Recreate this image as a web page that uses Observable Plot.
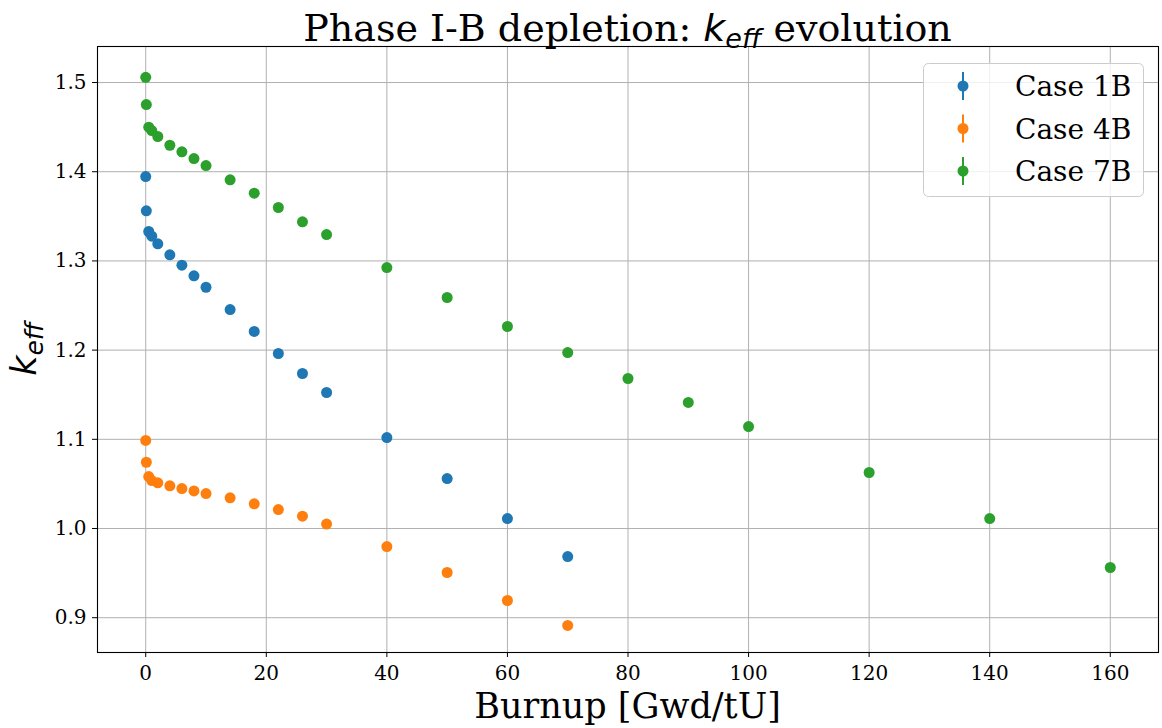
<!DOCTYPE html>
<html><head><meta charset="utf-8">
<script src="https://cdn.jsdelivr.net/npm/d3@7"></script>
<script src="https://cdn.jsdelivr.net/npm/@observablehq/plot@0.6"></script>
<style>body{margin:0;background:#fff;} #chart svg{display:block;}</style>
</head><body><div id="chart"></div>
<script>
const burnupShort = [0, 0.1, 0.5, 1, 2, 4, 6, 8, 10, 14, 18, 22, 26, 30, 40, 50, 60, 70];
const burnupLong = [0, 0.1, 0.5, 1, 2, 4, 6, 8, 10, 14, 18, 22, 26, 30, 40, 50, 60, 70, 80, 90, 100, 120, 140, 160];
const case1B = [1.3946, 1.3562, 1.3330, 1.3277, 1.3192, 1.3068, 1.2952, 1.2833, 1.2705, 1.2455, 1.2209, 1.1962, 1.1738, 1.1525, 1.1020, 1.0560, 1.0112, 0.9686];
const case4B = [1.0987, 1.0743, 1.0583, 1.0538, 1.0512, 1.0479, 1.0448, 1.0422, 1.0392, 1.0344, 1.0277, 1.0213, 1.0138, 1.0050, 0.9798, 0.9507, 0.9193, 0.8913];
const case7B = [1.5059, 1.4753, 1.4499, 1.4462, 1.4395, 1.4297, 1.4223, 1.4148, 1.4069, 1.3909, 1.3759, 1.3599, 1.3438, 1.3296, 1.2926, 1.2590, 1.2265, 1.1973, 1.1682, 1.1413, 1.1143, 1.0628, 1.0112, 0.9563];
const seriesNames = ["Case 1B", "Case 4B", "Case 7B"];
const seriesColors = ["#1f77b4", "#ff7f0e", "#2ca02c"];
const xTicks = [0, 20, 40, 60, 80, 100, 120, 140, 160];
const yTicks = [0.9, 1.0, 1.1, 1.2, 1.3, 1.4, 1.5];

const rows = [];
[[burnupShort, case1B], [burnupShort, case4B], [burnupLong, case7B]].forEach(([xs, ys], i) => {
  xs.forEach((x, j) => rows.push({burnup: x, keff: ys[j], series: seriesNames[i]}));
});

const W = 1162, H = 728;
const serif = "'DejaVu Serif', serif";
const chart = Plot.plot({
  width: W, height: H,
  marginLeft: 97, marginRight: 4, marginTop: 46, marginBottom: 76,
  style: {fontFamily: serif, fontSize: "20px", color: "#000", background: "#fff"},
  x: {domain: [-8, 168], label: null},
  y: {domain: [0.861, 1.5404], label: null},
  color: {domain: seriesNames, range: seriesColors},
  marks: [
    Plot.gridX(xTicks, {stroke: "#b0b0b0", strokeOpacity: 1, strokeWidth: 1}),
    Plot.gridY(yTicks, {stroke: "#b0b0b0", strokeOpacity: 1, strokeWidth: 1}),
    Plot.dot(rows, {x: "burnup", y: "keff", fill: "series", r: 5.5, stroke: "none"}),
    Plot.frame({stroke: "#000", strokeWidth: 1.1}),
    Plot.axisX(xTicks, {tickSize: 5, tickPadding: 8, tickFormat: d => String(d), fontSize: 20, label: null}),
    Plot.axisY(yTicks, {tickSize: 5, tickPadding: 6, tickFormat: d3.format(".1f"), fontSize: 20, label: null})
  ]
});
document.getElementById("chart").appendChild(chart);

const svg = d3.select(chart);
const cx = (97 + (W - 4)) / 2;
// Title
const t = svg.append("text").attr("x", cx).attr("y", 41).attr("text-anchor", "middle")
  .attr("font-family", serif).attr("font-size", 38).attr("fill", "#000");
t.append("tspan").text("Phase I-B depletion: ");
t.append("tspan").attr("font-family", "'DejaVu Sans', sans-serif").attr("font-style", "italic").text("k");
t.append("tspan").attr("font-family", "'DejaVu Sans', sans-serif").attr("font-style", "italic").attr("font-size", 27).attr("dy", 7).text("eff");
t.append("tspan").attr("dy", -7).text(" evolution");
// X label
svg.append("text").attr("x", cx).attr("y", 718).attr("text-anchor", "middle")
  .attr("font-family", serif).attr("font-size", 35).attr("fill", "#000").text("Burnup [Gwd/tU]");
// Y label
const yl = svg.append("text").attr("transform", `translate(36,${(46 + 652) / 2}) rotate(-90)`)
  .attr("text-anchor", "middle").attr("font-family", "'DejaVu Sans', sans-serif")
  .attr("font-style", "italic").attr("font-size", 35).attr("fill", "#000");
yl.append("tspan").text("k");
yl.append("tspan").attr("font-size", 25).attr("dy", 7).text("eff");
// Legend
const lg = svg.append("g");
lg.append("rect").attr("x", 923.5).attr("y", 63.5).attr("width", 220).attr("height", 133).attr("rx", 5)
  .attr("fill", "#fff").attr("fill-opacity", 0.8).attr("stroke", "#cccccc").attr("stroke-width", 1);
seriesNames.forEach((name, i) => {
  const y = 86 + i * 42.5;
  lg.append("line").attr("x1", 963).attr("x2", 963).attr("y1", y - 14).attr("y2", y + 14)
    .attr("stroke", seriesColors[i]).attr("stroke-width", 2);
  lg.append("circle").attr("cx", 963).attr("cy", y).attr("r", 5.5).attr("fill", seriesColors[i]);
  lg.append("text").attr("x", 1015).attr("y", y + 10).attr("text-anchor", "start")
    .attr("font-family", serif).attr("font-size", 28).attr("fill", "#000").text(name);
});
</script></body></html>
